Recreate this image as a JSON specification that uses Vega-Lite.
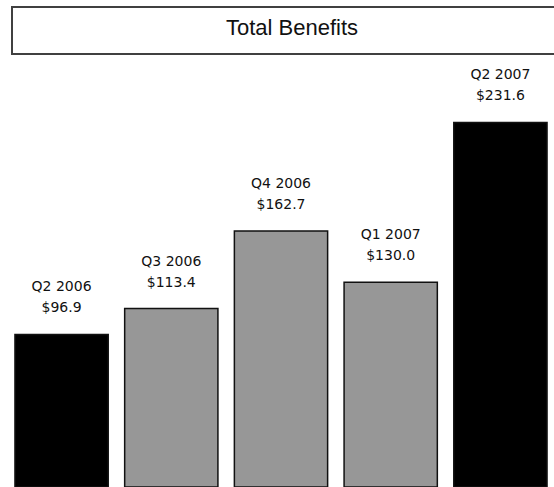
{
  "$schema": "https://vega.github.io/schema/vega-lite/v6.json",
  "padding": {"left": 11, "top": 6, "right": 0, "bottom": 0},
  "background": "white",
  "bounds": "flush",
  "spacing": 8,
  "config": {"view": {"stroke": null}},
  "vconcat": [
    {
      "width": 560,
      "height": 47,
      "view": {"stroke": "#404040", "strokeWidth": 2},
      "data": {"values": [{"title": "Total Benefits"}]},
      "mark": {"type": "text", "font": "Liberation Sans", "fontSize": 22, "baseline": "middle", "align": "center", "color": "#111", "dy": -3},
      "encoding": {"text": {"field": "title"}}
    },
    {
      "width": 538,
      "height": 425,
      "data": {"values": [
        {"quarter": "Q2 2006", "value": 96.9},
        {"quarter": "Q3 2006", "value": 113.4},
        {"quarter": "Q4 2006", "value": 162.7},
        {"quarter": "Q1 2007", "value": 130.0},
        {"quarter": "Q2 2007", "value": 231.6}
      ]},
      "transform": [
        {"calculate": "[datum.quarter, '$' + format(datum.value, '.1f')]", "as": "label"}
      ],
      "encoding": {
        "x": {"field": "quarter", "type": "nominal", "sort": null, "axis": null,
              "scale": {"paddingInner": 0.15, "paddingOuter": 0.027}},
        "y": {"field": "value", "type": "quantitative", "axis": null,
              "scale": {"domain": [0, 270], "nice": false, "zero": true}}
      },
      "layer": [
        {
          "mark": {"type": "bar", "stroke": "#111", "strokeWidth": 1.5},
          "encoding": {
            "fill": {
              "condition": {"test": "datum.quarter == 'Q2 2006' || datum.quarter == 'Q2 2007'", "value": "#000000"},
              "value": "#979797"
            }
          }
        },
        {
          "mark": {"type": "text", "font": "DejaVu Sans", "fontSize": 14, "lineHeight": 21, "baseline": "bottom", "align": "center", "dy": -40, "color": "#111"},
          "encoding": {"text": {"field": "label"}}
        }
      ]
    }
  ]
}
